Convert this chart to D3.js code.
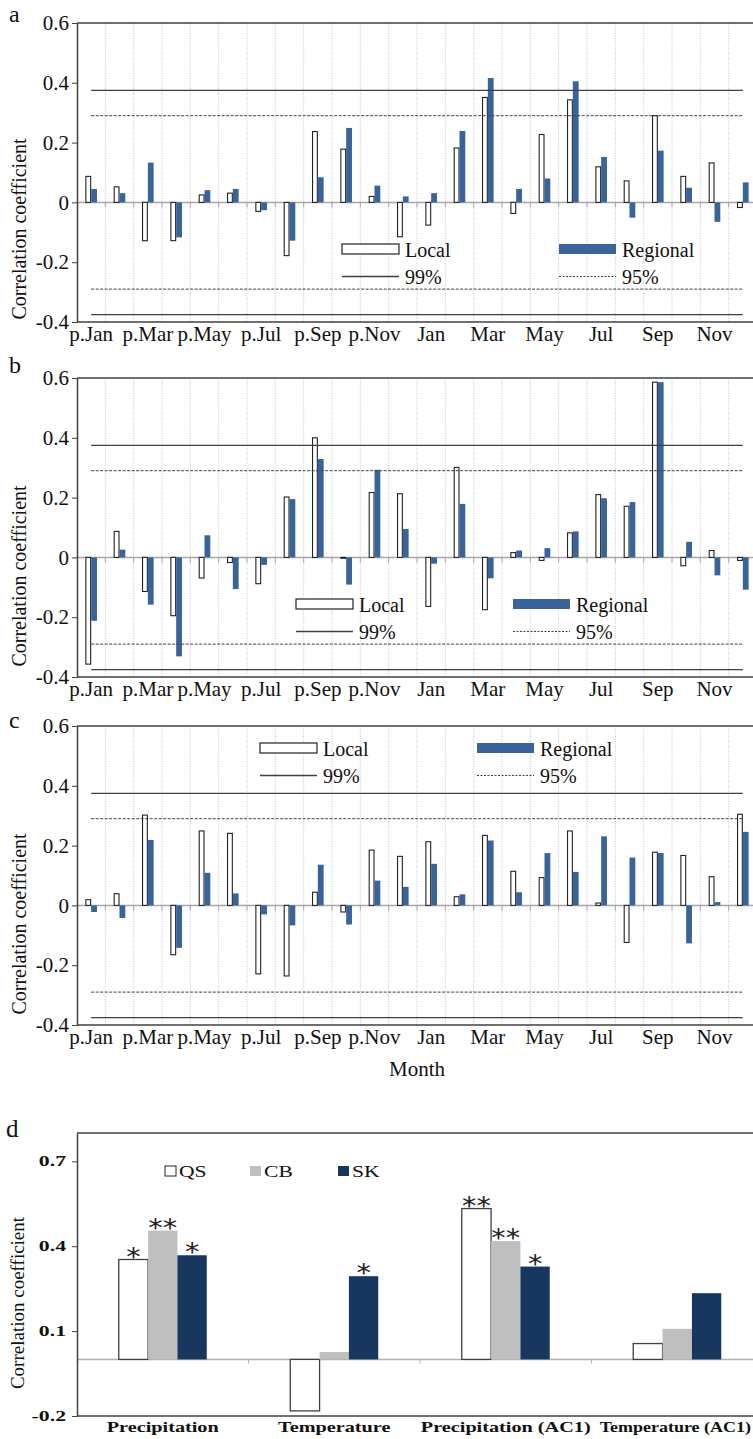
<!DOCTYPE html>
<html>
<head>
<meta charset="utf-8">
<script src="https://cdn.jsdelivr.net/npm/d3@7"></script>
<style>
  body { margin: 0; background: #fff; }
  svg { display: block; }
  text { font-family: "Liberation Serif", "DejaVu Serif", serif; }
  text.star { font-family: "DejaVu Sans", sans-serif; }
</style>
</head>
<body>
<div id="chart"></div>
<script>
// months: previous year (p.) and current year
const months = ["p.Jan", "p.Feb", "p.Mar", "p.Apr", "p.May", "p.Jun", "p.Jul", "p.Aug", "p.Sep", "p.Oct", "p.Nov", "p.Dec",
                "Jan", "Feb", "Mar", "Apr", "May", "Jun", "Jul", "Aug", "Sep", "Oct", "Nov", "Dec"];
const monthTicks = months.filter((d, i) => i % 2 === 0);
const yTicks = [-0.4, -0.2, 0, 0.2, 0.4, 0.6];
const yTickLabels = ["-0.4", "-0.2", "0", "0.2", "0.4", "0.6"];

const localA = [0.087, 0.052, -0.128, -0.128, 0.025, 0.031, -0.030, -0.178, 0.237, 0.178, 0.020, -0.115,
                -0.076, 0.182, 0.351, -0.037, 0.227, 0.343, 0.119, 0.072, 0.290, 0.087, 0.132, -0.017];
const regionalA = [0.045, 0.031, 0.133, -0.117, 0.041, 0.045, -0.026, -0.128, 0.084, 0.249, 0.056, 0.020,
                   0.031, 0.239, 0.416, 0.045, 0.080, 0.405, 0.152, -0.051, 0.173, 0.049, -0.065, 0.067];

const localB = [-0.357, 0.087, -0.114, -0.195, -0.069, -0.017, -0.088, 0.202, 0.400, -0.003, 0.217, 0.213,
                -0.164, 0.301, -0.175, 0.016, -0.010, 0.082, 0.210, 0.171, 0.586, -0.028, 0.023, -0.010];
const regionalB = [-0.212, 0.026, -0.158, -0.331, 0.074, -0.106, -0.025, 0.195, 0.329, -0.091, 0.293, 0.095,
                   -0.021, 0.179, -0.070, 0.023, 0.031, 0.087, 0.198, 0.185, 0.586, 0.052, -0.060, -0.108];

const localC = [0.019, 0.039, 0.302, -0.165, 0.249, 0.241, -0.229, -0.236, 0.044, -0.022, 0.185, 0.164,
                0.213, 0.029, 0.234, 0.114, 0.093, 0.249, 0.008, -0.124, 0.178, 0.167, 0.096, 0.305];
const regionalC = [-0.022, -0.042, 0.219, -0.142, 0.109, 0.040, -0.030, -0.067, 0.136, -0.064, 0.083, 0.062,
                   0.139, 0.037, 0.217, 0.044, 0.175, 0.112, 0.231, 0.160, 0.175, -0.127, 0.011, 0.246];

// significance thresholds
const r99 = 0.375;
const r95 = 0.29;

// panel d
const factors = ["Precipitation", "Temperature", "Precipitation (AC1)", "Temperature (AC1)"];
const siteNames = ["QS", "CB", "SK"];
const qsValues = [0.353, -0.182, 0.533, 0.056];
const cbValues = [0.455, 0.026, 0.418, 0.108];
const skValues = [0.368, 0.294, 0.328, 0.234];
const qsStars = ["*", "", "**", ""];
const cbStars = ["**", "", "**", ""];
const skStars = ["*", "*", "*", ""];
const dTicks = [-0.2, 0.1, 0.4, 0.7];
const dTickLabels = ["-0.2", "0.1", "0.4", "0.7"];

const width = 753, height = 1439;
const left = 77, bandRight = 757;
const axisColor = "#404040";
const blue = "#3a639a";

const svg = d3.select("#chart").append("svg")
    .attr("width", width)
    .attr("height", height);

const panels = [
    { id: "a", local: localA, regional: regionalA, top: 23, bottom: 322, labelY: 22, titleY: 229, lx: 342, ly: 244 },
    { id: "b", local: localB, regional: regionalB, top: 378, bottom: 677, labelY: 373, titleY: 576, lx: 296, ly: 599 },
    { id: "c", local: localC, regional: regionalC, top: 726, bottom: 1025, labelY: 728, titleY: 924, lx: 260, ly: 743 }
];

const x = d3.scaleBand().domain(months).range([left, bandRight]).padding(0);
const bw = x.bandwidth();
const xInner = d3.scaleBand().domain(["Local", "Regional"]).range([bw / 2 - 5.8, bw / 2 + 5.8]);

panels.forEach((p, pi) => {
    const y = d3.scaleLinear().domain([-0.4, 0.6]).range([p.bottom, p.top]);
    const g = svg.append("g");

    // vertical dotted grid at category boundaries
    g.append("g").selectAll("line")
        .data(months.slice(1))
        .enter().append("line")
        .attr("x1", d => x(d)).attr("x2", d => x(d))
        .attr("y1", p.top).attr("y2", p.bottom)
        .attr("stroke", "#c4c4c4")
        .attr("stroke-dasharray", "1,1.5");

    // zero line with category ticks
    g.append("line")
        .attr("x1", left).attr("x2", width)
        .attr("y1", y(0)).attr("y2", y(0))
        .attr("stroke", "#a6a6a6").attr("stroke-width", 1.5);
    g.append("g").selectAll("line")
        .data(months.slice(1))
        .enter().append("line")
        .attr("x1", d => x(d)).attr("x2", d => x(d))
        .attr("y1", y(0)).attr("y2", y(0) + 5)
        .attr("stroke", "#a6a6a6");

    const rows = months.map((m, i) => ({ month: m, Local: p.local[i], Regional: p.regional[i] }));

    // bars
    const groups = g.append("g").selectAll("g")
        .data(rows)
        .enter().append("g")
        .attr("transform", d => `translate(${x(d.month)},0)`);

    groups.append("rect")
        .attr("x", xInner("Local") + 0.5)
        .attr("width", xInner.bandwidth() - 1)
        .attr("y", d => y(Math.max(0, d.Local)))
        .attr("height", d => Math.abs(y(d.Local) - y(0)))
        .attr("fill", "#fff")
        .attr("stroke", "#222")
        .attr("stroke-width", 1.1);

    groups.append("rect")
        .attr("x", xInner("Regional"))
        .attr("width", xInner.bandwidth())
        .attr("y", d => y(Math.max(0, d.Regional)))
        .attr("height", d => Math.abs(y(d.Regional) - y(0)))
        .attr("fill", blue);

    // significance lines
    const x0 = x(months[0]) + bw / 2, x1 = x(months[months.length - 1]) + bw / 2;
    [r99, -r99].forEach(v => {
        g.append("line").attr("x1", x0).attr("x2", x1)
            .attr("y1", y(v)).attr("y2", y(v))
            .attr("stroke", axisColor).attr("stroke-width", 1.3);
    });
    [r95, -r95].forEach(v => {
        g.append("line").attr("x1", x0).attr("x2", x1)
            .attr("y1", y(v)).attr("y2", y(v))
            .attr("stroke", axisColor).attr("stroke-width", 1)
            .attr("stroke-dasharray", "3,1.5");
    });

    // frame
    g.append("line").attr("x1", left).attr("x2", width).attr("y1", p.top).attr("y2", p.top)
        .attr("stroke", axisColor).attr("stroke-width", 1.5);
    g.append("line").attr("x1", left).attr("x2", width).attr("y1", p.bottom).attr("y2", p.bottom)
        .attr("stroke", axisColor).attr("stroke-width", 1.5);

    // y axis
    const yAxis = g.append("g")
        .attr("transform", `translate(${left},0)`)
        .call(d3.axisLeft(y).tickValues(yTicks).tickSize(5).tickSizeOuter(0)
            .tickFormat((d, i) => yTickLabels[i]));
    yAxis.select(".domain").attr("stroke", axisColor).attr("stroke-width", 1.5);
    yAxis.selectAll(".tick line").attr("stroke", axisColor);
    yAxis.selectAll("text")
        .attr("font-size", 21)
        .attr("fill", "#111")
        .attr("x", -8);

    // x labels
    const xAxis = g.append("g")
        .attr("transform", `translate(0,${p.bottom})`)
        .call(d3.axisBottom(x).tickValues(monthTicks).tickSize(0));
    xAxis.select(".domain").remove();
    xAxis.selectAll("text")
        .attr("font-size", 21)
        .attr("fill", "#111")
        .attr("dy", null)
        .attr("y", 19);

    // y title
    g.append("text")
        .attr("transform", `translate(26,${p.titleY}) rotate(-90)`)
        .attr("text-anchor", "middle")
        .attr("font-size", 20)
        .attr("fill", "#111")
        .text("Correlation coefficient");

    // panel letter
    g.append("text")
        .attr("x", 9).attr("y", p.labelY)
        .attr("font-size", 24)
        .attr("fill", "#111")
        .text(p.id);

    // legend
    const lg = g.append("g").attr("transform", `translate(${p.lx},${p.ly})`);
    lg.append("rect").attr("x", 0).attr("y", 0).attr("width", 57).attr("height", 10)
        .attr("fill", "#fff").attr("stroke", "#222").attr("stroke-width", 1.2);
    lg.append("text").attr("x", 63).attr("y", 13).attr("font-size", 20).attr("fill", "#111").text("Local");
    lg.append("line").attr("x1", 0).attr("x2", 57).attr("y1", 32.5).attr("y2", 32.5)
        .attr("stroke", axisColor).attr("stroke-width", 1.3);
    lg.append("text").attr("x", 63).attr("y", 40).attr("font-size", 20).attr("fill", "#111").text("99%");
    lg.append("rect").attr("x", 217).attr("y", 0).attr("width", 57).attr("height", 10).attr("fill", blue);
    lg.append("text").attr("x", 280).attr("y", 13).attr("font-size", 20).attr("fill", "#111").text("Regional");
    lg.append("line").attr("x1", 217).attr("x2", 274).attr("y1", 32.5).attr("y2", 32.5)
        .attr("stroke", axisColor).attr("stroke-width", 1).attr("stroke-dasharray", "2,1.5");
    lg.append("text").attr("x", 280).attr("y", 40).attr("font-size", 20).attr("fill", "#111").text("95%");

    if (pi === 2) {
        g.append("text")
            .attr("x", (left + bandRight) / 2).attr("y", 1076)
            .attr("text-anchor", "middle")
            .attr("font-size", 21)
            .attr("fill", "#111")
            .text("Month");
    }
});

// ---------- panel d ----------
const dTop = 1133, dBottom = 1416;
const yd = d3.scaleLinear().domain([-0.2, 0.8]).range([dBottom, dTop]);
const xd = d3.scaleBand().domain(factors).range([left, 763]).padding(0);
const xdInner = d3.scaleBand().domain(siteNames)
    .range([xd.bandwidth() / 2 - 44, xd.bandwidth() / 2 + 44]);
const siteColor = { QS: "#fff", CB: "#bfbfbf", SK: "#17375e" };

// the original lettering is stretched horizontally
function wideText(sel, tx, ty, txt, size, anchor, bold, sx = 1.35) {
    return sel.append("text")
        .attr("transform", `translate(${tx},${ty}) scale(${sx},1)`)
        .attr("text-anchor", anchor)
        .attr("font-size", size)
        .attr("font-weight", bold ? "bold" : "normal")
        .attr("fill", "#111")
        .text(txt);
}

const gd = svg.append("g");

gd.append("line").attr("x1", left).attr("x2", width).attr("y1", yd(0)).attr("y2", yd(0))
    .attr("stroke", "#b0b0b0").attr("stroke-width", 1.5);
gd.append("g").selectAll("line")
    .data(factors.slice(1))
    .enter().append("line")
    .attr("x1", d => xd(d)).attr("x2", d => xd(d))
    .attr("y1", yd(0)).attr("y2", yd(0) + 4)
    .attr("stroke", "#b0b0b0");

const dRows = factors.map((f, i) => ({
    factor: f,
    bars: [
        { site: "QS", value: qsValues[i], star: qsStars[i] },
        { site: "CB", value: cbValues[i], star: cbStars[i] },
        { site: "SK", value: skValues[i], star: skStars[i] }
    ]
}));

const dGroups = gd.append("g").selectAll("g")
    .data(dRows)
    .enter().append("g")
    .attr("transform", d => `translate(${xd(d.factor)},0)`);

dGroups.selectAll("rect")
    .data(d => d.bars)
    .enter().append("rect")
    .attr("x", d => xdInner(d.site))
    .attr("width", xdInner.bandwidth())
    .attr("y", d => yd(Math.max(0, d.value)))
    .attr("height", d => Math.abs(yd(d.value) - yd(0)))
    .attr("fill", d => siteColor[d.site])
    .attr("stroke", d => d.site === "QS" ? axisColor : "none")
    .attr("stroke-width", 1.3);

dGroups.selectAll("text.star")
    .data(d => d.bars.filter(b => b.star))
    .enter().append("text")
    .attr("class", "star")
    .attr("transform", d => `translate(${xdInner(d.site) + xdInner.bandwidth() / 2},${yd(d.value) + 5}) scale(1.2,1)`)
    .attr("text-anchor", "middle")
    .attr("font-size", 24)
    .attr("fill", "#222")
    .text(d => d.star);

// frame
gd.append("line").attr("x1", left).attr("x2", width).attr("y1", dTop).attr("y2", dTop)
    .attr("stroke", axisColor).attr("stroke-width", 1.5);
gd.append("line").attr("x1", left).attr("x2", width).attr("y1", dBottom).attr("y2", dBottom)
    .attr("stroke", axisColor).attr("stroke-width", 1.5);

const ydAxis = gd.append("g")
    .attr("transform", `translate(${left},0)`)
    .call(d3.axisLeft(yd).tickValues(dTicks).tickSize(5).tickSizeOuter(0).tickFormat(() => ""));
ydAxis.select(".domain").attr("stroke", axisColor).attr("stroke-width", 1.5);
ydAxis.selectAll(".tick line").attr("stroke", axisColor);
dTicks.forEach((v, i) => {
    wideText(gd, 66, yd(v) + 5, dTickLabels[i], 15, "end", true, 1.45);
});

factors.forEach((f, i) => {
    if (i < factors.length - 1) {
        wideText(gd, xd(f) + xd.bandwidth() / 2, 1432, f, 15, "middle", true);
    } else {
        // last label kept inside the picture's right edge
        wideText(gd, 751, 1432, f, 15, "end", true, 1.2);
    }
});

gd.append("text")
    .attr("transform", `translate(24,1303) rotate(-90)`)
    .attr("text-anchor", "middle")
    .attr("font-size", 19)
    .attr("fill", "#111")
    .text("Correlation coefficient");

gd.append("text").attr("x", 6).attr("y", 1137).attr("font-size", 25).attr("fill", "#111").text("d");

// legend d
const legendX = [165, 250, 338];
siteNames.forEach((s, i) => {
    gd.append("rect")
        .attr("x", legendX[i]).attr("y", 1166).attr("width", 11).attr("height", 10)
        .attr("fill", siteColor[s])
        .attr("stroke", s === "QS" ? "#222" : "none");
    wideText(gd, legendX[i] + 14, 1177, s, 16, "start", false);
});
</script>
</body>
</html>
